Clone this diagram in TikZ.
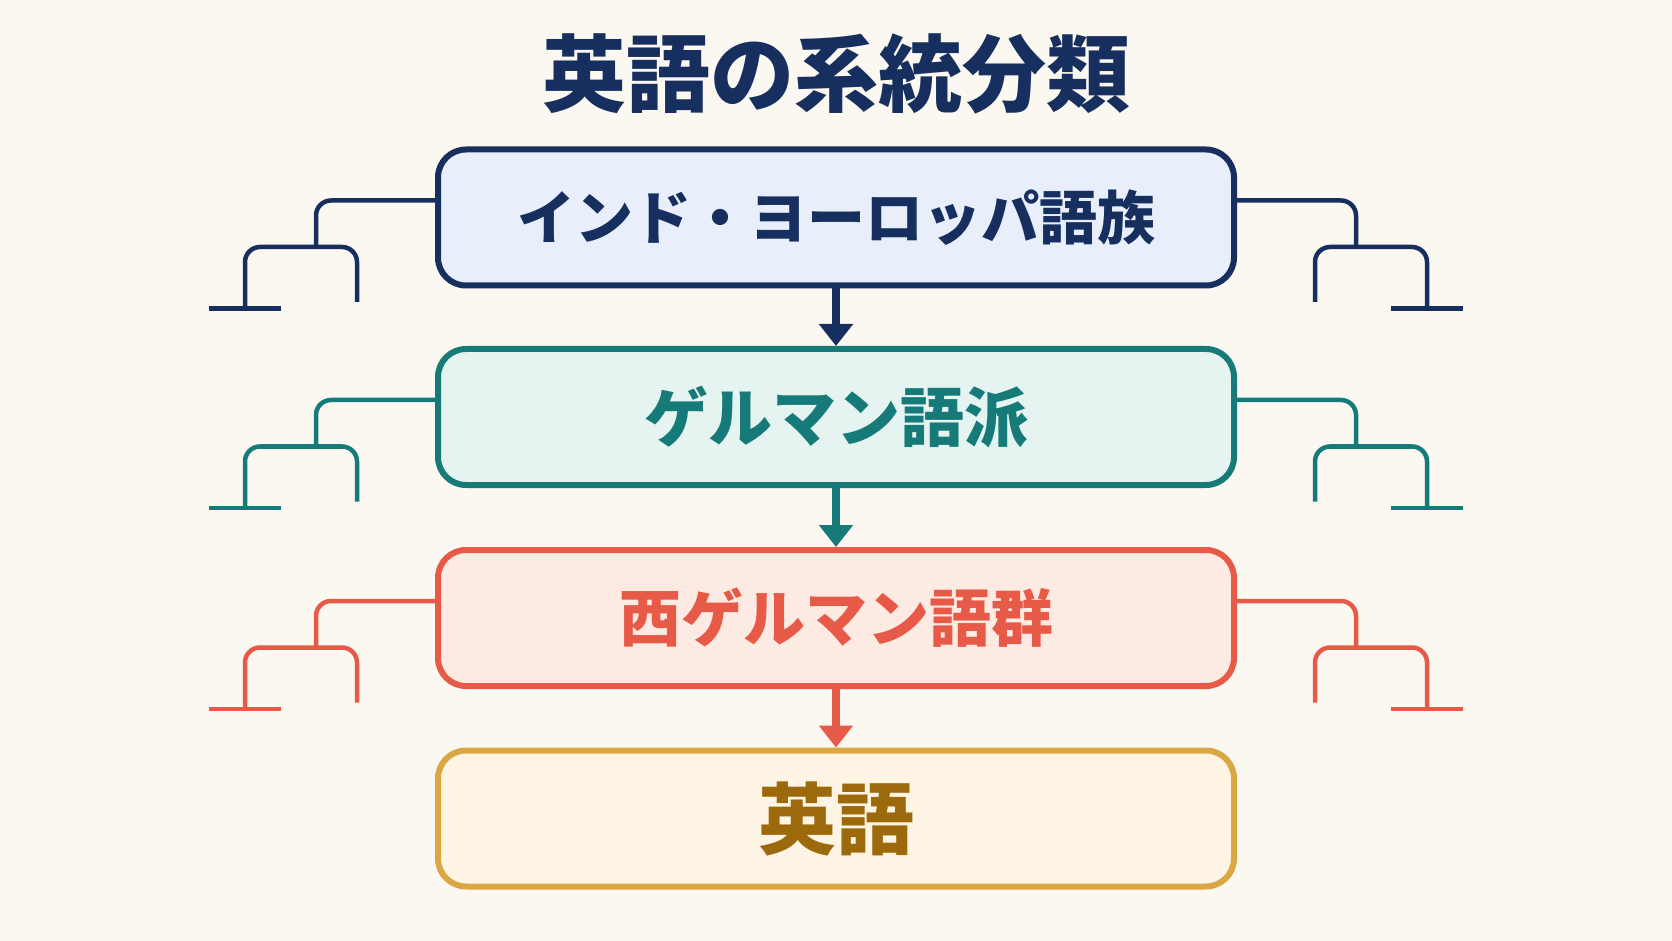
\documentclass[tikz,border=0pt]{standalone}
\usepackage{fontspec}
\newfontfamily\cjk{Noto Sans CJK JP}
\usetikzlibrary{arrows.meta,calc}

\definecolor{bgcol}{HTML}{FBF8F1}
\definecolor{navy}{HTML}{172F5E}
\definecolor{navyfill}{HTML}{E8EFFA}
\definecolor{teal}{HTML}{167B78}
\definecolor{tealfill}{HTML}{E5F4F1}
\definecolor{coral}{HTML}{E85A48}
\definecolor{coralfill}{HTML}{FDEBE3}
\definecolor{gold}{HTML}{D9A845}
\definecolor{goldfill}{HTML}{FDF4E4}
\definecolor{goldtext}{HTML}{9C6A0C}

\begin{document}
\begin{tikzpicture}[
x=0.5pt, y=-0.5pt,
levelbox/.style n args={3}{rectangle, rounded corners=14pt, line width=3pt, draw=#1, fill=#2, text=#3,
  minimum width=398pt, minimum height=68pt, inner sep=0pt},
flow/.style={draw=#1, line width=4pt, -{Triangle[width=16.5pt,length=11pt]}},
branch/.style={draw=#1, line width=2.25pt, rounded corners=7.5pt}
]

    \fill[bgcol] (0,0) rectangle (1672,941);

    \node [text=navy, font=\cjk\bfseries\fontsize{42pt}{42pt}\selectfont] (title) at (836,74) {英語の系統分類};

    \node [levelbox={navy}{navyfill}{navy}, font=\cjk\bfseries\fontsize{29pt}{29pt}\selectfont] (b1) at (836,217.5) {インド・ヨーロッパ語族};
    \node [levelbox={teal}{tealfill}{teal}, font=\cjk\bfseries\fontsize{32pt}{32pt}\selectfont] (b2) at (836,417) {ゲルマン語派};
    \node [levelbox={coral}{coralfill}{coral}, font=\cjk\bfseries\fontsize{31pt}{31pt}\selectfont] (b3) at (836,618) {西ゲルマン語群};
    \node [levelbox={gold}{goldfill}{goldtext}, font=\cjk\bfseries\fontsize{39pt}{39pt}\selectfont] (b4) at (836,818.5) {英語};

    \draw [flow=navy] (b1) -- (b2);
    \draw [flow=teal] (b2) -- (b3);
    \draw [flow=coral] (b3) -- (b4);

    % small trees on both sides
    \foreach \b/\c in {b1/navy, b2/teal, b3/coral}
    \foreach \s in {-1,1} {
        \draw [branch=\c] ($(\b.center)+(\s*398,-17)$) -| ($(\b.center)+(\s*520,29.5)$);
        \draw [branch=\c] ($(\b.center)+(\s*591,91)$) |- ($(\b.center)+(\s*479,29.5)$) -- ($(\b.center)+(\s*479,84.5)$);
        \draw [branch=\c, rounded corners=0pt] ($(\b.center)+(\s*555,91)$) -- ($(\b.center)+(\s*627,91)$);
    }

\end{tikzpicture}
\end{document}
